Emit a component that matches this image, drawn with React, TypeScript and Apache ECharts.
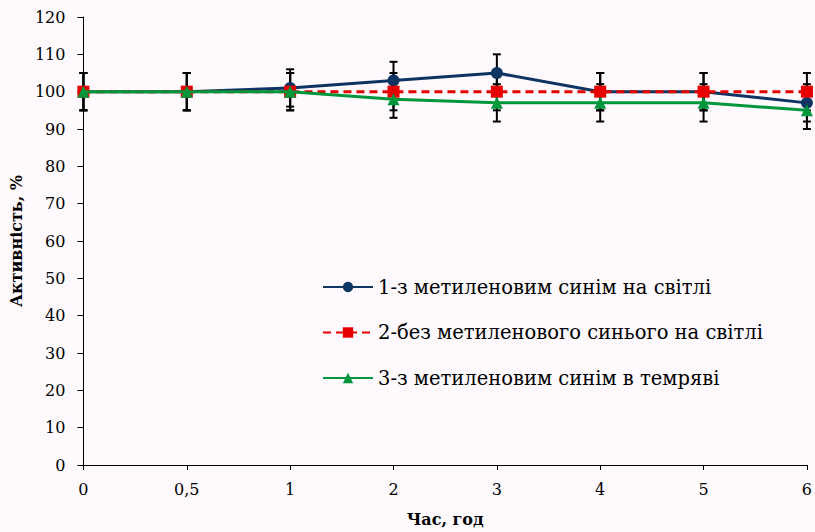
import React, { useEffect, useRef } from "react";
import * as echarts from "echarts";

const categories = ["0", "0,5", "1", "2", "3", "4", "5", "6"];
const series1 = [100, 100, 101, 103, 105, 100, 100, 97];
const series2 = [100, 100, 100, 100, 100, 100, 100, 100];
const series3 = [100, 100, 100, 98, 97, 97, 97, 95];
const errors1 = [5, 5, 5, 5, 5, 5, 5, 5];
const errors2 = [5, 5, 5, 5, 5, 5, 5, 5];
const errors3 = [5, 5, 5, 5, 5, 5, 5, 5];
const names = [
  "1-з метиленовим синім на світлі",
  "2-без метиленового синього на світлі",
  "3-з метиленовим синім в темряві",
];

const FONT = "DejaVu Serif";

function errData(vals: number[], errs: number[]) {
  return vals.map((v, i) => [i, v - errs[i], v + errs[i]]);
}

const errorRender = (params: any, api: any) => {
  const x = api.value(0);
  const lo = api.coord([x, api.value(1)]);
  const hi = api.coord([x, api.value(2)]);
  const w = 4;
  const style = { stroke: "#000", lineWidth: 2 };
  return {
    type: "group",
    children: [
      { type: "line", shape: { x1: lo[0], y1: lo[1], x2: hi[0], y2: hi[1] }, style },
      { type: "line", shape: { x1: lo[0] - w, y1: lo[1], x2: lo[0] + w, y2: lo[1] }, style },
      { type: "line", shape: { x1: hi[0] - w, y1: hi[1], x2: hi[0] + w, y2: hi[1] }, style },
    ],
  };
};

export default function App() {
  const ref = useRef<HTMLDivElement>(null);
  useEffect(() => {
    const chart = echarts.init(ref.current!, null, { renderer: "svg" });
    const errSeries = (vals: number[], errs: number[]) => ({
      type: "custom",
      renderItem: errorRender,
      data: errData(vals, errs),
      encode: { x: 0, y: [1, 2] },
      z: 1,
      silent: true,
    });
    chart.setOption({
      animation: false,
      backgroundColor: "#fdf9fd",
      textStyle: { fontFamily: FONT },
      grid: { left: 82, right: 5, top: 17, bottom: 66 },
      legend: {
        orient: "vertical",
        left: 322,
        top: 277,
        padding: 0,
        itemWidth: 50,
        itemHeight: 13,
        itemGap: 25.5,
        textStyle: { fontFamily: FONT, fontSize: 19.5, color: "#000" },
        data: names,
      },
      xAxis: {
        type: "category",
        data: categories,
        boundaryGap: false,
        name: "Час, год",
        nameLocation: "middle",
        nameGap: 46,
        nameTextStyle: { fontFamily: FONT, fontSize: 16, fontWeight: "bold", color: "#000" },
        axisLine: { lineStyle: { color: "#000", width: 1 } },
        axisTick: { show: true, alignWithLabel: true, length: 5, lineStyle: { color: "#000" } },
        axisLabel: { fontFamily: FONT, fontSize: 16, color: "#000", margin: 16 },
        splitLine: { show: false },
      },
      yAxis: {
        type: "value",
        min: 0,
        max: 120,
        interval: 10,
        name: "Активність, %",
        nameLocation: "middle",
        nameGap: 57,
        nameTextStyle: { fontFamily: FONT, fontSize: 16, fontWeight: "bold", color: "#000" },
        axisLine: { show: true, lineStyle: { color: "#000", width: 1 } },
        axisTick: { show: true, length: 6, lineStyle: { color: "#000" } },
        axisLabel: { fontFamily: FONT, fontSize: 16, color: "#000", margin: 18 },
        splitLine: { show: false },
      },
      series: [
        errSeries(series1, errors1),
        errSeries(series2, errors2),
        errSeries(series3, errors3),
        {
          name: names[0],
          type: "line",
          data: series1,
          symbol: "circle",
          symbolSize: 12,
          itemStyle: { color: "#0e3463" },
          lineStyle: { color: "#0e3463", width: 3 },
          z: 3,
        },
        {
          name: names[1],
          type: "line",
          data: series2,
          symbol: "rect",
          symbolSize: 12,
          itemStyle: { color: "#e60000" },
          lineStyle: { color: "#e60000", width: 3, type: [8, 5] },
          z: 4,
        },
        {
          name: names[2],
          type: "line",
          data: series3,
          symbol: "triangle",
          symbolSize: 12,
          itemStyle: { color: "#00963c" },
          lineStyle: { color: "#00963c", width: 3 },
          z: 5,
        },
      ],
    });
    return () => chart.dispose();
  }, []);
  return (
    <div
      ref={ref}
      style={{ position: "fixed", left: 0, top: 0, width: 815, height: 532 }}
    />
  );
}
